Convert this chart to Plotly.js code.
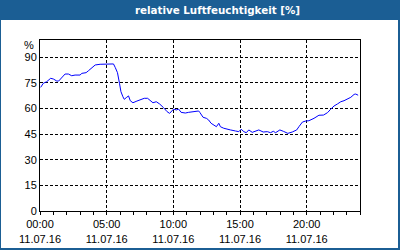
<!DOCTYPE html>
<html><head><meta charset="utf-8">
<script src="https://cdn.plot.ly/plotly-3.0.1.min.js"></script>
<style>html,body{margin:0;padding:0;background:#fff}#c{width:400px;height:250px}</style>
</head><body><div id="c"></div>
<script>
const hours = [0.05,0.25,0.5,0.8,1.0,1.26,1.4,1.63,1.88,2.13,2.38,2.63,3.0,3.14,3.46,3.63,3.89,4.14,4.51,5.01,5.51,5.64,5.81,5.96,6.07,6.22,6.32,6.47,6.64,6.77,6.97,7.27,7.52,7.82,8.07,8.32,8.47,8.72,8.97,9.27,9.53,9.72,9.9,10.02,10.23,10.4,10.58,10.9,11.15,11.53,11.9,12.0,12.23,12.48,12.65,12.83,13.03,13.23,13.41,13.53,13.78,14.04,14.29,14.66,14.91,15.09,15.29,15.47,15.66,15.92,16.17,16.41,16.74,17.05,17.29,17.5,17.67,17.99,18.25,18.59,18.92,19.25,19.42,19.68,19.92,20.17,20.55,20.92,21.26,21.56,21.8,22.05,22.31,22.56,22.8,23.05,23.31,23.56,23.68,23.86];
const humidity = [72.3,74.7,75.6,77.6,77.2,76,76,78,80.1,80.1,79.1,79.5,79.5,80.5,80.9,82,83.8,85.4,85.8,86,86,84,80.9,74.7,69.8,66.8,65.3,66.3,67.3,64.5,63.3,64.3,64.9,65.9,65.9,64.3,63.3,63.9,62.6,60.4,58.1,57.1,58.5,59.6,59.1,59.6,57.7,57.3,57.7,58.3,58.5,57.5,54.8,54.2,53.2,51.3,50.1,49.3,51.3,49.3,48.4,48.1,47.4,46.8,46.4,47.8,46.4,45.8,47.4,46,46.8,47.4,46.2,46.4,45.8,46.6,45.8,47.4,46.6,45.4,46.2,47.4,49.3,52,52.6,52.8,54.2,56,56.1,57.5,59.5,61.4,62.6,63.9,64.5,65.3,66.5,68.2,68.4,67.7];
const xTickVals = [0,5,10,15,20];
const xTickText = ["00:00<br>11.07.16","05:00<br>11.07.16","10:00<br>11.07.16","15:00<br>11.07.16","20:00<br>11.07.16"];
const yTickVals = [0,15,30,45,60,75,90];
const titleText = "relative Luftfeuchtigkeit [%]";
const unitText = "%";

const W=400,H=250,L=40,R=40,T=40,B=39;
const pw=W-L-R, ph=H-T-B;
const px=x=>(x-L)/pw, py=y=>(H-B-y)/ph;
const blue="#1b5e94";

Plotly.newPlot('c',[{
  x:hours,y:humidity,type:'scatter',mode:'lines',
  line:{color:'#0000ff',width:1},hoverinfo:'skip'
}],{
  width:W,height:H,margin:{l:L,r:R,t:T,b:B,pad:0},
  paper_bgcolor:blue,plot_bgcolor:'#ffffff',
  showlegend:false,
  font:{family:'Liberation Sans, Arial, sans-serif',size:11,color:'#000'},
  xaxis:{range:[0,24],tickmode:'array',tickvals:xTickVals,ticktext:xTickText,
    showgrid:true,gridcolor:'#000',gridwidth:1,griddash:'3px,2px',
    showline:true,linecolor:'#000',linewidth:1,mirror:true,
    ticks:'outside',ticklen:3,tickcolor:'#000',zeroline:false,
    minor:{dtick:1,tick0:0,ticks:'outside',ticklen:3,tickcolor:'#000',showgrid:false},
    tickfont:{size:11,color:'#000'},fixedrange:true},
  yaxis:{range:[0,100],tickmode:'array',tickvals:yTickVals,
    showgrid:true,gridcolor:'#000',gridwidth:1,griddash:'3px,2px',
    showline:true,linecolor:'#000',linewidth:1,mirror:true,
    ticks:'',zeroline:false,tickfont:{size:11,color:'#000'},fixedrange:true},
  shapes:[{type:'rect',xref:'paper',yref:'paper',layer:'below',
    x0:px(1),x1:px(398),y0:py(248),y1:py(20),fillcolor:'#ffffff',line:{width:0}}],
  annotations:[
    {text:'<b>'+titleText+'</b>',xref:'paper',yref:'paper',x:px(217),y:py(10),
     xanchor:'center',yanchor:'middle',showarrow:false,
     font:{family:'DejaVu Sans, sans-serif',size:10.3,color:'#fff'}},
    {text:unitText,xref:'paper',yref:'paper',x:px(36),y:py(45),
     xanchor:'right',yanchor:'middle',showarrow:false,
     font:{size:11,color:'#000'}}
  ]
},{staticPlot:true,displayModeBar:false});
</script></body></html>
